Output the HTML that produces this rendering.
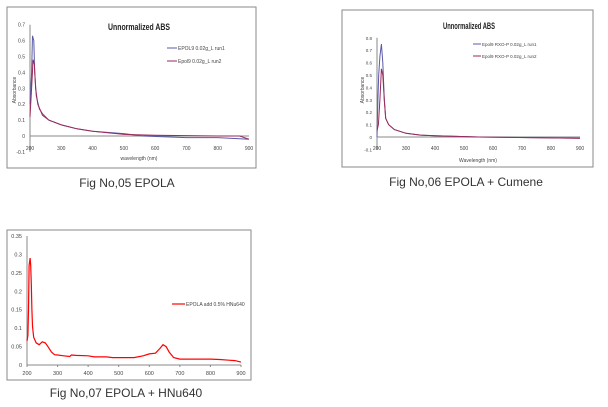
<!DOCTYPE html>
<html><head><meta charset="utf-8"><style>
body{margin:0;background:#fff;width:608px;height:407px;overflow:hidden;font-family:"Liberation Sans",sans-serif}
svg{position:absolute;left:0;top:0}
</style></head><body>
<svg id="s" width="608" height="407">
<rect x="7" y="7" width="249" height="161" fill="#fff" stroke="#8a8a8a"/>
<rect x="342" y="10" width="251" height="157" fill="#fff" stroke="#8a8a8a"/>
<rect x="7" y="230" width="244" height="150" fill="#fff" stroke="#8a8a8a"/>
<text x="127" y="187" font-size="12" text-anchor="middle" fill="#333">Fig No,05 EPOLA</text>
<text x="466" y="186" font-size="12" text-anchor="middle" fill="#333">Fig No,06 EPOLA + Cumene</text>
<text x="126" y="397" font-size="12" text-anchor="middle" fill="#333">Fig No,07 EPOLA + HNu640</text>
<text x="139" y="30" font-size="9" font-weight="bold" text-anchor="middle" textLength="62" lengthAdjust="spacingAndGlyphs" fill="#222">Unnormalized ABS</text>
<text x="469" y="29" font-size="9" font-weight="bold" text-anchor="middle" textLength="52" lengthAdjust="spacingAndGlyphs" fill="#222">Unnormalized ABS</text>
</svg>
<script>
// ---- Chart 1 data ----
const c1Wl1=[200,205,208,212,215,220,230,240,260,300,350,400,500,560,700,800,900];
const c1Run1=[0.2,0.4,0.63,0.6,0.4,0.25,0.17,0.14,0.1,0.07,0.045,0.03,0.015,0,-0.01,-0.01,-0.02];
const c1Wl2=[200,205,210,214,218,225,240,260,300,350,400,500,600,800,870,900];
const c1Run2=[0.12,0.3,0.48,0.45,0.3,0.2,0.13,0.1,0.07,0.045,0.03,0.01,0.005,0,0,-0.02];
const c1YTicks=["0.7","0.6","0.5","0.4","0.3","0.2","0.1","0","-0.1"];
const c1XTicks=["200","300","400","500","600","700","800","900"];
// ---- Chart 2 data ----
const c2Wl1=[200,203,206,210,215,220,225,230,240,260,300,350,400,550,900];
const c2Run1=[0,0.3,0.5,0.65,0.75,0.6,0.3,0.15,0.1,0.06,0.03,0.015,0.01,0,-0.01];
const c2Wl2=[200,205,210,215,220,225,230,240,260,300,350,400,550,900];
const c2Run2=[0.05,0.1,0.3,0.55,0.5,0.3,0.15,0.1,0.06,0.03,0.015,0.01,0,-0.01];
const c2YTicks=["0.8","0.7","0.6","0.5","0.4","0.3","0.2","0.1","0","-0.1"];
const c2XTicks=["200","300","400","500","600","700","800","900"];
// ---- Chart 3 data ----
const c3Wl=[200,203,205,207,210,212,214,216,218,222,230,240,250,260,270,280,290,300,320,340,345,360,400,420,460,480,550,580,600,620,635,645,655,665,680,700,800,830,860,880,900];
const c3Abs=[0.065,0.08,0.15,0.27,0.29,0.27,0.22,0.15,0.105,0.075,0.06,0.055,0.063,0.06,0.048,0.035,0.028,0.027,0.025,0.023,0.027,0.026,0.025,0.022,0.022,0.02,0.02,0.025,0.03,0.032,0.045,0.055,0.05,0.035,0.02,0.016,0.016,0.015,0.013,0.012,0.008];
const c3YTicks=["0","0.05","0.1","0.15","0.2","0.25","0.3","0.35"];
const c3XTicks=["200","300","400","500","600","700","800","900"];

const svg=document.getElementById('s');
const NS='http://www.w3.org/2000/svg';
function mk(tag,attrs,txt){const e=document.createElementNS(NS,tag);for(const k in attrs)e.setAttribute(k,attrs[k]);if(txt!==undefined)e.textContent=txt;svg.appendChild(e);return e;}
function lin(d0,d1,r0,r1){return v=>r0+(v-d0)*(r1-r0)/(d1-d0);}
function path(xs,ys,fx,fy){return xs.map((w,i)=>(i?'L':'M')+fx(w).toFixed(1)+','+fy(ys[i]).toFixed(1)).join('');}

// Chart 1
{const fx=lin(200,900,30,249),fy=lin(0,0.1,136,120.1);
let e=mk('line',{x1:30,y1:fy(0.7),x2:30,y2:fy(-0.1),stroke:'#888'});

e=mk('line',{x1:30,y1:fy(0),x2:249,y2:fy(0),stroke:'#888'});

c1YTicks.forEach(t=>{const el=mk('text',{x:25,y:fy(+t)+2,'font-size':5,'text-anchor':'end',fill:'#444'},t);
});
c1XTicks.forEach(t=>{const el=mk('text',{x:fx(+t),y:150,'font-size':5,'text-anchor':'middle',fill:'#444'},t);
});
e=mk('text',{x:139,y:160,'font-size':5,'text-anchor':'middle',fill:'#444'},'wavelength (nm)');

e=mk('text',{x:0,y:0,'font-size':5,'text-anchor':'middle',fill:'#444',transform:'translate(16,90) rotate(-90)'},'Absorbance');

e=mk('path',{d:path(c1Wl1,c1Run1,fx,fy),fill:'none',stroke:'#5a5aa8','stroke-width':1});

e=mk('path',{d:path(c1Wl2,c1Run2,fx,fy),fill:'none',stroke:'#9a2a5a','stroke-width':1});

e=mk('line',{x1:167,y1:48,x2:177,y2:48,stroke:'#5a5aa8'});

e=mk('text',{x:178,y:50,'font-size':5,fill:'#444'},'EPOL9 0.02g_L run1');

e=mk('line',{x1:167,y1:61,x2:177,y2:61,stroke:'#9a2a5a'});

e=mk('text',{x:178,y:63,'font-size':5,fill:'#444'},'Epol9 0.02g_L run2');
}

// Chart 2
{const fx=lin(200,900,377,580),fy=lin(0,0.1,137,124.6);
let e=mk('line',{x1:377,y1:fy(0.8),x2:377,y2:fy(-0.1),stroke:'#888'});

e=mk('line',{x1:377,y1:fy(0),x2:580,y2:fy(0),stroke:'#888'});

c2YTicks.forEach(t=>{const el=mk('text',{x:372,y:fy(+t)+2,'font-size':4.5,'text-anchor':'end',fill:'#444'},t);
});
c2XTicks.forEach(t=>{const el=mk('text',{x:fx(+t),y:150,'font-size':5,'text-anchor':'middle',fill:'#444'},t);
});
e=mk('text',{x:478,y:162,'font-size':5,'text-anchor':'middle',fill:'#444'},'Wavelength (nm)');

e=mk('text',{x:0,y:0,'font-size':5,'text-anchor':'middle',fill:'#444',transform:'translate(364,90) rotate(-90)'},'Absorbance');

e=mk('path',{d:path(c2Wl1,c2Run1,fx,fy),fill:'none',stroke:'#5a5aa8','stroke-width':1});

e=mk('path',{d:path(c2Wl2,c2Run2,fx,fy),fill:'none',stroke:'#9a2a5a','stroke-width':1});

e=mk('line',{x1:473,y1:44,x2:481,y2:44,stroke:'#5a5aa8'});

e=mk('text',{x:482,y:46,'font-size':4.5,fill:'#444'},'Epol9 RXO-P 0.02g_L run1');

e=mk('line',{x1:473,y1:56,x2:481,y2:56,stroke:'#9a2a5a'});

e=mk('text',{x:482,y:58,'font-size':4.5,fill:'#444'},'Epol9 RXO-P 0.02g_L run2');
}

// Chart 3
{const fx=lin(200,900,27,241),fy=lin(0,0.35,365,236);
let e=mk('line',{x1:27,y1:236,x2:27,y2:365,stroke:'#888'});

e=mk('line',{x1:27,y1:365,x2:241,y2:365,stroke:'#888'});

c3YTicks.forEach(t=>{const el=mk('text',{x:22,y:fy(+t)+2,'font-size':5.5,'text-anchor':'end',fill:'#444'},t);
});
c3XTicks.forEach(t=>{const x=fx(+t);
const tk=mk('line',{x1:x,y1:365,x2:x,y2:367,stroke:'#888'});

const el=mk('text',{x:x,y:375,'font-size':5.5,'text-anchor':'middle',fill:'#444'},t);
});
e=mk('path',{d:path(c3Wl,c3Abs,fx,fy),fill:'none',stroke:'#f00','stroke-width':1.2});

e=mk('line',{x1:172,y1:304,x2:185,y2:304,stroke:'#f00','stroke-width':1.2});

e=mk('text',{x:186,y:306,'font-size':5,fill:'#444'},'EPOLA add 0.5% HNu640');
}
</script>
</body></html>
